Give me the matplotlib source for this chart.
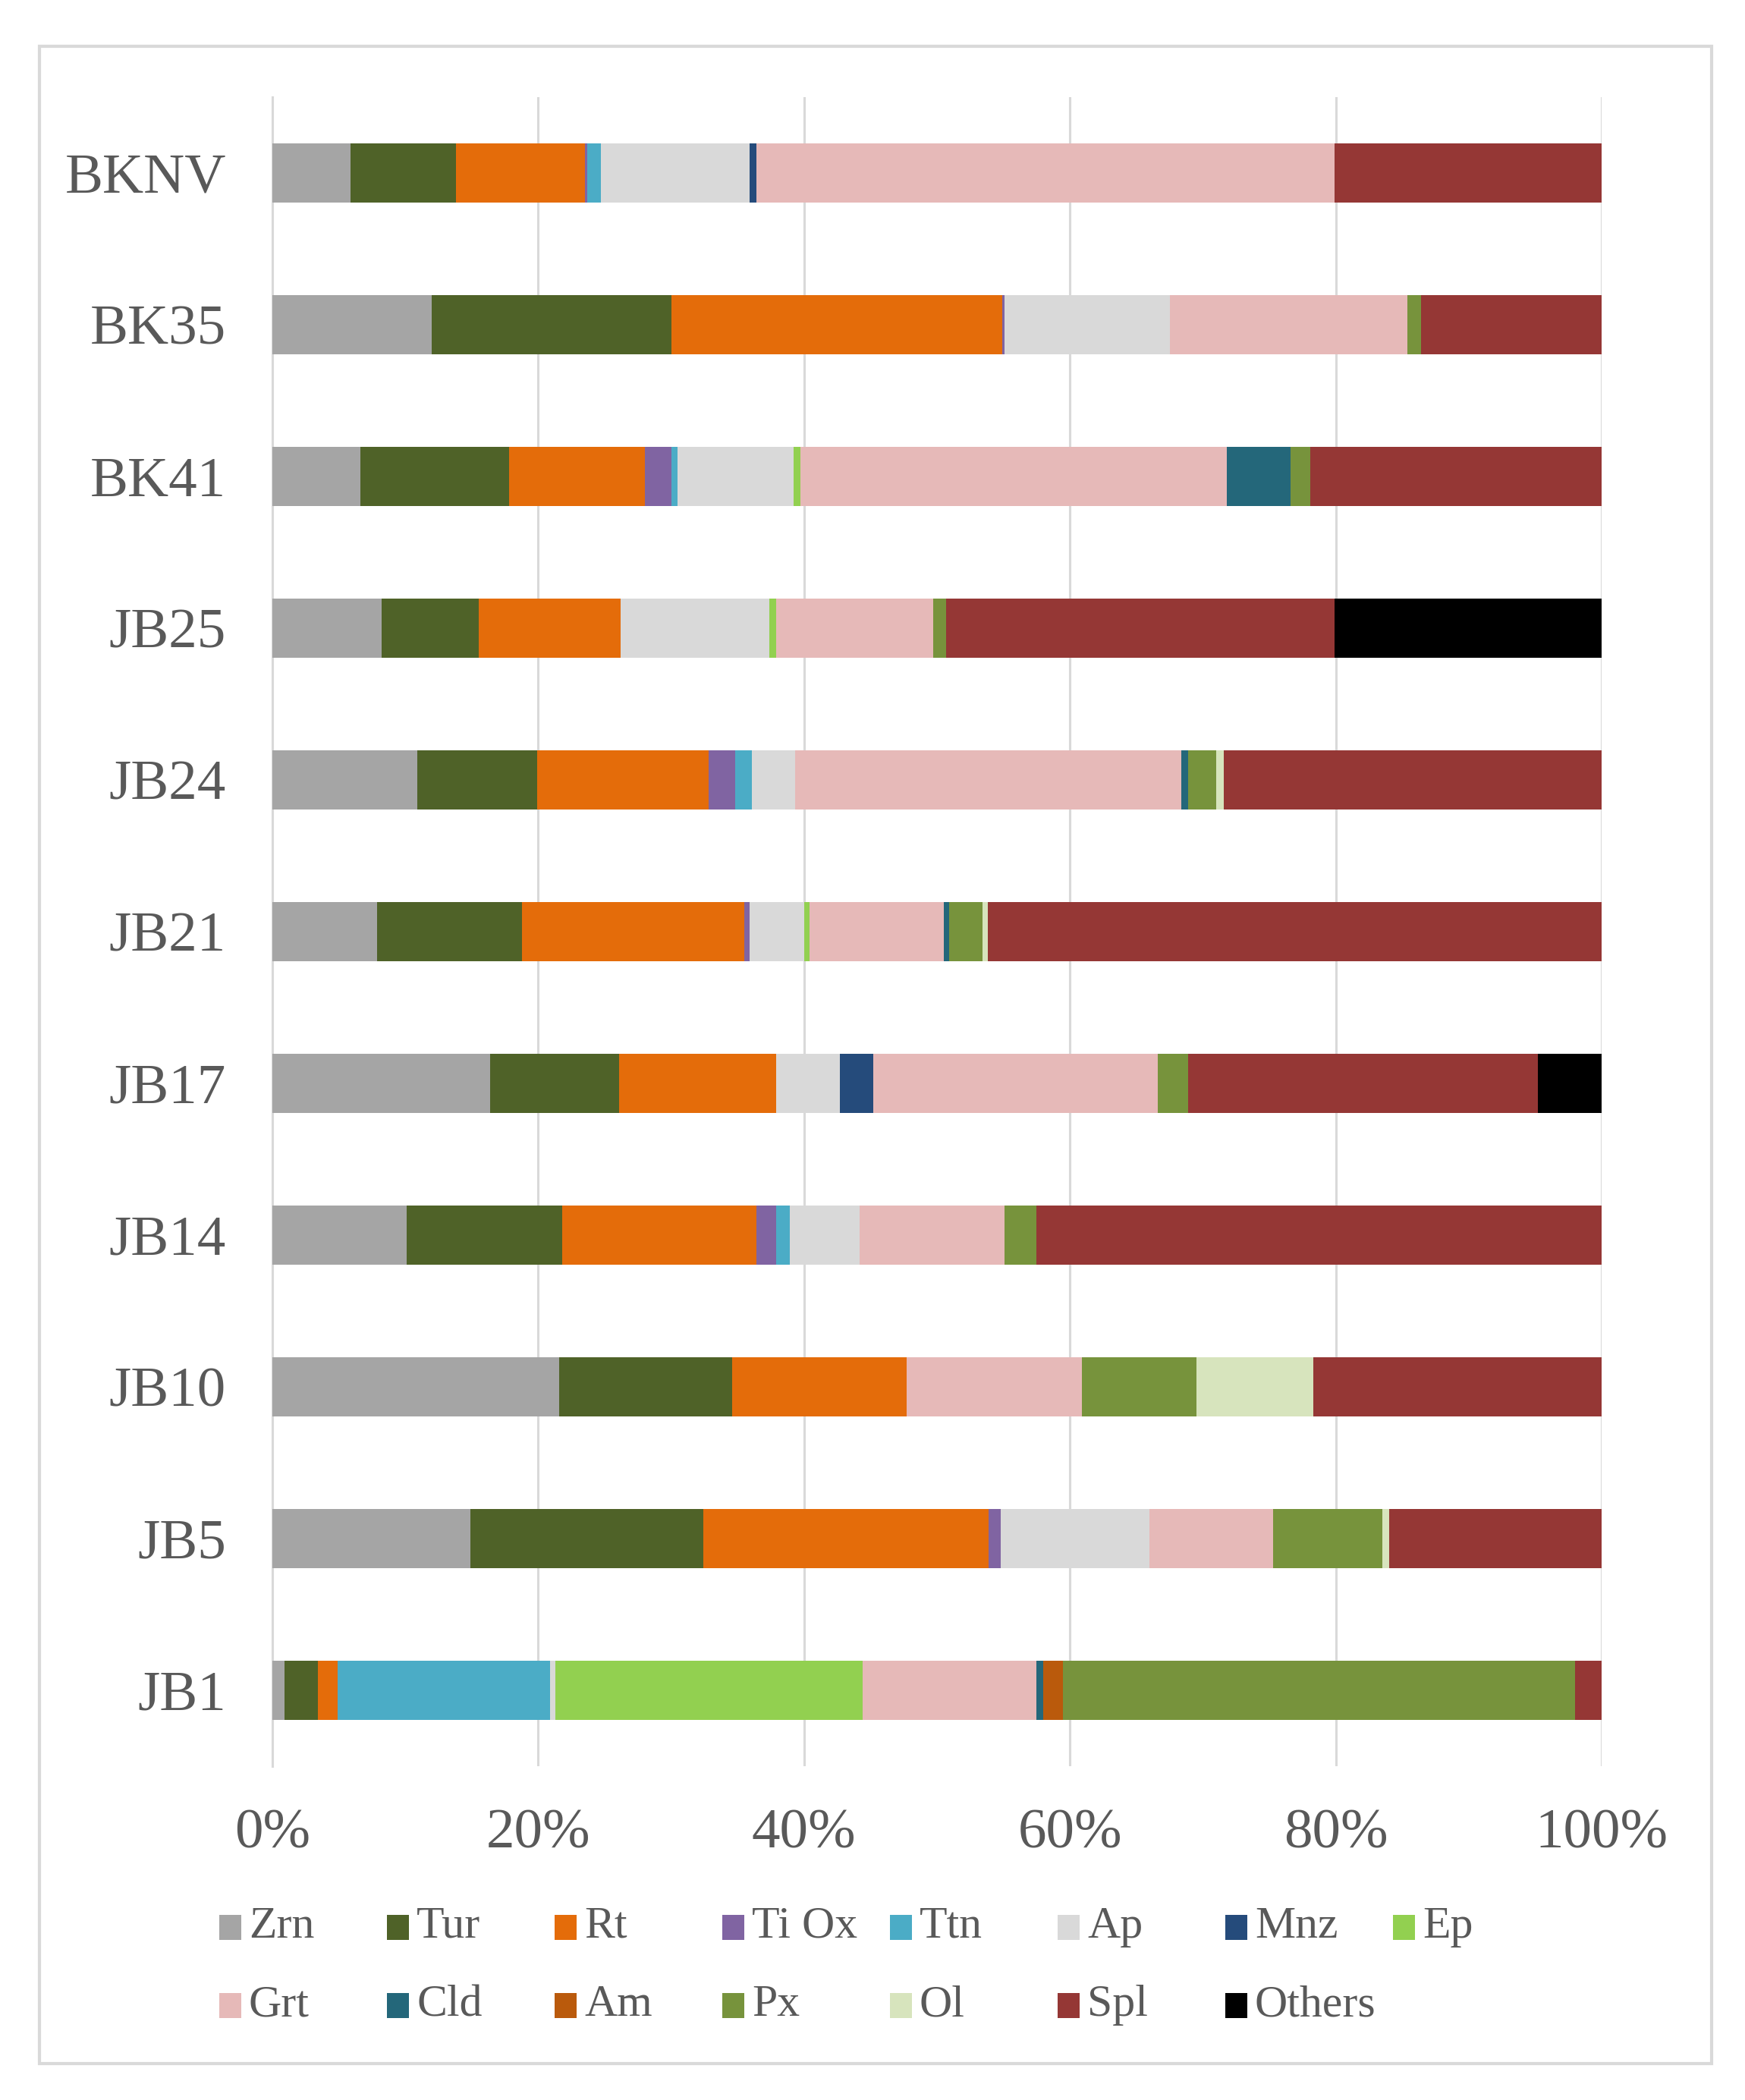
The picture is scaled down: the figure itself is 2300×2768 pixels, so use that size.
import matplotlib
matplotlib.use("Agg")
import matplotlib.pyplot as plt
from matplotlib.patches import Rectangle
import numpy as np

samples = ["BKNV", "BK35", "BK41", "JB25", "JB24", "JB21", "JB17", "JB14", "JB10", "JB5", "JB1"]

Zrn    = [5.9, 12.0, 6.6, 8.2, 10.9, 7.9, 16.4, 10.1, 21.6, 14.9, 0.9]
Tur    = [7.9, 18.0, 11.2, 7.3, 9.0, 10.9, 9.7, 11.7, 13.0, 17.5, 2.5]
Rt     = [9.7, 24.9, 10.2, 10.7, 12.9, 16.7, 11.8, 14.6, 13.1, 21.5, 1.5]
TiOx   = [0.2, 0.2, 2.0, 0.0, 2.0, 0.4, 0.0, 1.5, 0.0, 0.9, 0.0]
Ttn    = [1.0, 0.0, 0.5, 0.0, 1.3, 0.0, 0.0, 1.0, 0.0, 0.0, 16.0]
Ap     = [11.2, 12.4, 8.7, 11.2, 3.2, 4.1, 4.8, 5.3, 0.0, 11.2, 0.4]
Mnz    = [0.5, 0.0, 0.0, 0.0, 0.0, 0.0, 2.5, 0.0, 0.0, 0.0, 0.0]
Ep     = [0.0, 0.0, 0.5, 0.5, 0.0, 0.4, 0.0, 0.0, 0.0, 0.0, 23.1]
Grt    = [43.5, 17.9, 32.1, 11.8, 29.1, 10.1, 21.4, 10.9, 13.2, 9.3, 13.1]
Cld    = [0.0, 0.0, 4.8, 0.0, 0.5, 0.4, 0.0, 0.0, 0.0, 0.0, 0.5]
Am     = [0.0, 0.0, 0.0, 0.0, 0.0, 0.0, 0.0, 0.0, 0.0, 0.0, 1.5]
Px     = [0.0, 1.0, 1.5, 1.0, 2.1, 2.5, 2.3, 2.4, 8.6, 8.2, 38.5]
Ol     = [0.0, 0.0, 0.0, 0.0, 0.6, 0.4, 0.0, 0.0, 8.8, 0.5, 0.0]
Spl    = [20.1, 13.6, 21.9, 29.2, 28.4, 46.2, 26.3, 42.5, 21.7, 16.0, 2.0]
Others = [0.0, 0.0, 0.0, 20.1, 0.0, 0.0, 4.8, 0.0, 0.0, 0.0, 0.0]

series_names = ["Zrn", "Tur", "Rt", "Ti Ox", "Ttn", "Ap", "Mnz", "Ep",
                "Grt", "Cld", "Am", "Px", "Ol", "Spl", "Others"]
series_vals = [Zrn, Tur, Rt, TiOx, Ttn, Ap, Mnz, Ep, Grt, Cld, Am, Px, Ol, Spl, Others]
colors = ["#A5A5A5", "#4F6228", "#E46C0A", "#8064A2", "#4BACC6", "#D9D9D9",
          "#254B7B", "#92D050", "#E6B9B8", "#24677A", "#BA5A0C", "#77933C",
          "#D7E4BD", "#953735", "#000000"]

xticks = [0, 20, 40, 60, 80, 100]
xticklabels = ["0%", "20%", "40%", "60%", "80%", "100%"]

W, H = 2300, 2768
DPI = 100
fig = plt.figure(figsize=(W / DPI, H / DPI), dpi=DPI)
fig.patch.set_facecolor("white")

txt_color = "#595959"
font = "Liberation Serif"

ax = fig.add_axes([359 / W, 1 - 2328 / H, (2111 - 359) / W, (2328 - 128) / H])
y = np.arange(len(samples))
left = np.zeros(len(samples))
for name, vals, c in zip(series_names, series_vals, colors):
    v = np.array(vals, dtype=float)
    ax.barh(y, v, left=left, height=0.39, color=c, edgecolor="none", zorder=3, label=name)
    left += v

ax.set_xlim(0, 100)
ax.set_ylim(len(samples) - 0.5, -0.5)
ax.set_xticks(xticks)
ax.set_xticklabels(xticklabels, fontsize=54, family=font, color=txt_color)
ax.set_yticks(y)
ax.set_yticklabels(samples, fontsize=54, family=font, color=txt_color)
ax.tick_params(axis="both", length=0)
ax.tick_params(axis="x", pad=40)
ax.tick_params(axis="y", pad=44)
ax.grid(axis="x", color="#D9D9D9", linewidth=2.2, zorder=0)
for s in ["top", "right", "bottom"]:
    ax.spines[s].set_visible(False)
ax.spines["left"].set_color("#D9D9D9")
ax.spines["left"].set_linewidth(2.2)
ax.spines["left"].set_zorder(1)

# legend (Excel style, row-major, fixed column width)
x0, step = 289, 221
row_y = [2540, 2643]
pw, ph = 29, 33
for i, (name, c) in enumerate(zip(series_names, colors)):
    r, col = divmod(i, 8)
    px = x0 + col * step
    py = row_y[r]
    fig.add_artist(Rectangle((px / W, 1 - (py + ph / 2) / H), pw / W, ph / H,
                             transform=fig.transFigure, facecolor=c, edgecolor="none"))
    fig.text((px + pw + 10) / W, 1 - py / H, name, fontsize=43, family=font,
             color=txt_color, va="center", ha="left")

# outer frame
fig.add_artist(Rectangle((52 / W, 1 - 2720 / H), (2256 - 52) / W, (2720 - 61) / H,
                         transform=fig.transFigure, facecolor="none",
                         edgecolor="#D9D9D9", linewidth=3))

fig.savefig("out.png", dpi=DPI)
